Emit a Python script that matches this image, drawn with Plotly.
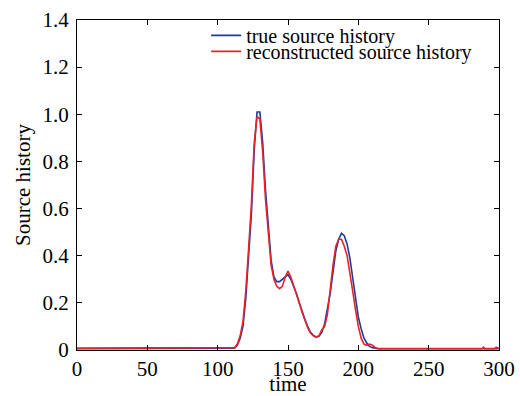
import plotly.graph_objects as go

t_true = [0, 110, 112, 114, 116, 118, 120, 122, 124, 126, 128, 130, 132, 134, 136, 138, 140, 142, 144, 146,
          148, 150, 152, 154, 156, 158, 160, 162, 164, 166, 168, 170, 172, 174, 176, 178, 180, 182, 184, 186,
          188, 190, 192, 194, 196, 198, 200, 202, 204, 206, 208, 210, 212, 214, 300]
y_true = [0.005, 0.005, 0.008, 0.02, 0.05, 0.10, 0.22, 0.40, 0.58, 0.85, 1.01, 1.01, 0.88, 0.68, 0.52, 0.38,
          0.31, 0.29, 0.29, 0.30, 0.31, 0.32, 0.30, 0.27, 0.24, 0.20, 0.16, 0.13, 0.10, 0.075, 0.062, 0.055,
          0.058, 0.075, 0.11, 0.17, 0.24, 0.33, 0.42, 0.47, 0.495, 0.485, 0.45, 0.39, 0.30, 0.21, 0.14, 0.09,
          0.05, 0.03, 0.015, 0.01, 0.006, 0.005, 0.005]

t_rec = [0, 110, 112, 114, 116, 118, 120, 122, 124, 126, 128, 130, 132, 134, 136, 138, 140, 142, 144, 146,
         148, 150, 152, 154, 156, 158, 160, 162, 164, 166, 168, 170, 172, 174, 176, 178, 180, 182, 184, 186,
         188, 190, 192, 194, 196, 198, 200, 202, 204, 206, 208, 210, 212, 214, 288, 289, 290, 297, 298, 300]
y_rec = [0.008, 0.008, 0.01, 0.025, 0.06, 0.12, 0.25, 0.43, 0.62, 0.88, 0.99, 0.98, 0.84, 0.64, 0.49, 0.36,
         0.30, 0.27, 0.26, 0.27, 0.31, 0.335, 0.31, 0.275, 0.24, 0.20, 0.16, 0.125, 0.095, 0.072, 0.06, 0.055,
         0.06, 0.085, 0.10, 0.15, 0.26, 0.36, 0.44, 0.47, 0.47, 0.44, 0.40, 0.33, 0.25, 0.17, 0.10, 0.05,
         0.025, 0.02, 0.025, 0.02, 0.01, 0.006, 0.006, 0.012, 0.006, 0.006, 0.012, 0.006]

x_ticks = [0, 50, 100, 150, 200, 250, 300]
y_ticks = [0, 0.2, 0.4, 0.6, 0.8, 1.0, 1.2, 1.4]
y_tick_labels = ["0", "0.2", "0.4", "0.6", "0.8", "1.0", "1.2", "1.4"]

font = "Liberation Serif, Times New Roman, serif"

fig = go.Figure()
fig.add_trace(go.Scatter(x=t_true, y=y_true, mode="lines", name="true source history",
                         line=dict(color="#1f3c98", width=1.6), legend="legend"))
fig.add_trace(go.Scatter(x=t_rec, y=y_rec, mode="lines", name="reconstructed source history",
                         line=dict(color="#e8222c", width=1.6), legend="legend2"))

axis_common = dict(showline=True, linecolor="black", linewidth=1, mirror="ticks", ticks="inside",
                   ticklen=5, tickcolor="black", showgrid=False, zeroline=False, automargin=False,
                   ticklabeloverflow="allow",
                   tickfont=dict(family=font, size=21, color="black"))

leg_common = dict(xanchor="left", yanchor="middle", bgcolor="rgba(0,0,0,0)",
                  font=dict(family=font, size=20, color="black"), itemwidth=30)

fig.update_layout(
    width=520, height=396,
    margin=dict(l=77, r=21, t=20, b=46),
    paper_bgcolor="white", plot_bgcolor="white",
    font=dict(family=font, color="black"),
    xaxis=dict(range=[0, 300], tickvals=x_ticks,
               title=dict(text="time", font=dict(family=font, size=21), standoff=5), **axis_common),
    yaxis=dict(range=[0, 1.4], tickvals=y_ticks, ticktext=y_tick_labels, ticklabelstandoff=3,
               title=dict(text="Source history", font=dict(family=font, size=21), standoff=6), **axis_common),
    legend=dict(x=0.306, y=0.9535, **leg_common),
    legend2=dict(x=0.306, y=0.905, **leg_common),
    showlegend=True,
)

fig.write_html("out.html", config={"displayModeBar": False},
               post_script="document.body.style.margin='0';document.body.style.overflow='hidden';")
